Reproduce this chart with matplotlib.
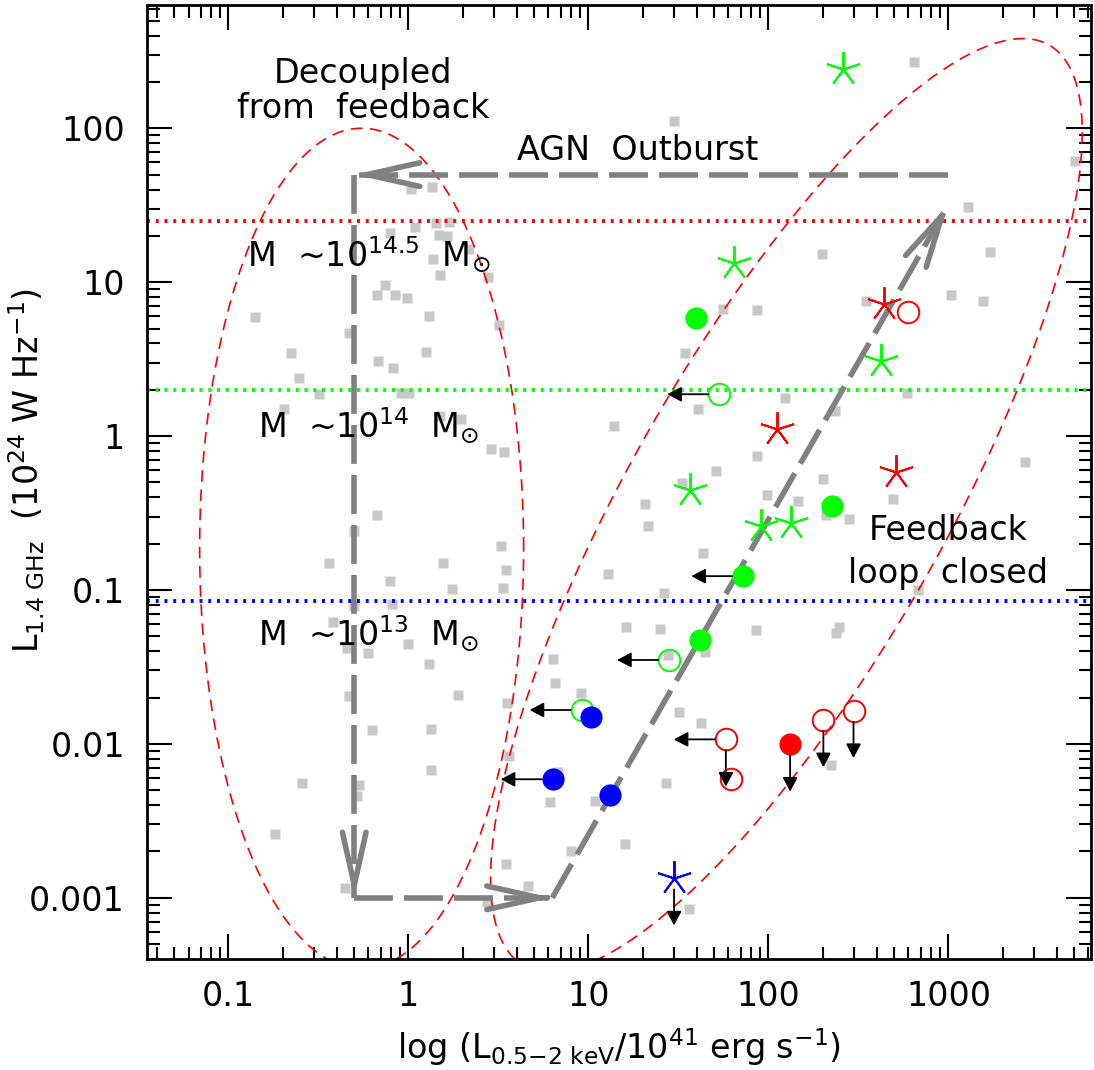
import numpy as np
import matplotlib
matplotlib.use('Agg')
import matplotlib.pyplot as plt
from matplotlib.ticker import LogLocator, NullFormatter

plt.rcParams['font.family'] = 'DejaVu Sans'
plt.rcParams['mathtext.fontset'] = 'dejavusans'

# comparison sample (grey squares)
gx = [1.04, 1.35, 1.09, 1.42, 1.69, 0.79, 1.47, 1.63, 2.17, 1.37, 1.49, 2.76, 0.74, 0.67, 0.84, 0.98, 0.14, 1.30,
      645, 29.9, 5060, 1282, 198, 1706, 1035, 1553, 349, 56.2, 86.9,
      3.2, 0.47, 0.223, 1.25, 0.676, 0.82, 0.247, 0.32, 0.91, 1.01, 0.204, 1.50, 1.96, 13.9, 2.87, 3.41,
      0.667, 0.50, 3.26, 0.36, 1.55, 3.49, 12.8, 0.79, 1.74, 3.34, 0.815, 0.50, 0.38, 16.2,
      34.4, 124, 587, 40.6, 235, 86.3, 51.1, 2670, 33.0, 200, 20.7, 98, 146, 491, 21.4, 209, 280, 43.3,
      26.4, 681, 25.0, 85.1, 247, 237,
      0.458, 0.594, 0.99, 1.30, 6.34, 6.53, 0.469, 1.88, 9.07, 3.52, 0.627, 1.34, 3.64, 1.34, 0.256, 0.532,
      0.517, 6.79, 6.12, 10.9, 0.182, 16.0, 8.02, 3.49, 4.64, 0.445, 2.73,
      27.8, 44.5, 31.9, 42.3, 27.0, 222, 36.2]
gy = [40.2, 41.4, 22.9, 24.1, 24.7, 20.8, 20.3, 20.0, 16.4, 14.1, 11.1, 10.8, 9.6, 8.3, 8.2, 7.9, 5.9, 6.0,
      271, 112, 61.3, 31.0, 15.2, 15.8, 8.3, 7.5, 7.5, 6.7, 6.6,
      5.27, 4.7, 3.48, 3.53, 3.09, 2.78, 2.39, 1.88, 1.90, 1.91, 1.49, 1.35, 1.29, 1.16, 0.824, 0.792,
      0.307, 0.243, 0.194, 0.150, 0.150, 0.135, 0.127, 0.114, 0.1016, 0.1036, 0.0807, 0.0787, 0.0619, 0.0578,
      3.48, 1.78, 1.90, 1.49, 1.46, 0.746, 0.596, 0.682, 0.498, 0.526, 0.362, 0.416, 0.380, 0.390, 0.262,
      0.307, 0.289, 0.175, 0.0953, 0.100, 0.0558, 0.0550, 0.0578, 0.0528,
      0.0418, 0.0388, 0.0444, 0.0329, 0.0356, 0.0250, 0.0205, 0.0208, 0.0215, 0.0185, 0.0124, 0.0125,
      0.00838, 0.00676, 0.00554, 0.00541, 0.00461, 0.00659, 0.00421, 0.00428, 0.0026, 0.00224, 0.00200,
      0.00166, 0.00120, 0.00116, 0.00094,
      0.0378, 0.0397, 0.0162, 0.0137, 0.00554, 0.00733, 0.00084]

# groups: x, y, x upper limit, y upper limit
gfill_x = [39.5, 225, 72.6, 41.8]
gfill_y = [5.83, 0.353, 0.123, 0.0473]
gfill_xul = [0, 0, 1, 0]

gopen_x = [53.4, 28.1, 9.18]
gopen_y = [1.87, 0.0351, 0.0166]
gopen_xul = [1, 1, 1]

gstar_x = [259, 64.4, 421, 36.7, 90.8, 133]
gstar_y = [242, 13.3, 3.08, 0.447, 0.261, 0.274]

rstar_x = [441, 111, 512]
rstar_y = [7.22, 1.11, 0.582]

ropen_x = [600, 58.0, 62.1, 202, 297]
ropen_y = [6.4, 0.0107, 0.00592, 0.0143, 0.0164]
ropen_xul = [0, 1, 0, 0, 0]
ropen_yul = [0, 1, 0, 1, 1]

rfill_x = [132]
rfill_y = [0.00993]
rfill_yul = [1]

bfill_x = [10.4, 6.34, 13.1]
bfill_y = [0.0149, 0.00589, 0.00466]
bfill_xul = [0, 1, 0]

bstar_x = [29.9]
bstar_y = [0.00134]
bstar_yul = [1]

# mass thresholds
mass_y = [25, 2.0, 0.085]
mass_col = ['red', '#00ff00', 'blue']

# feedback cycle (AGN outburst -> decoupled -> closed loop)
cycle_x = [1000, 0.5, 0.5, 6.3, 1000]
cycle_y = [50, 50, 0.001, 0.001, 32]

# ellipses in log space: cx, cy, a, b, angle
ell_left = (-0.26, -0.73, 0.90, 2.73, 0.0)
ell_mid = (2.10, -0.45, 3.33, 0.90, 64.6)

fig = plt.figure(figsize=(10.94, 10.70), dpi=100)
ax = fig.add_axes([0.1344, 0.1037, 0.8629, 0.8916])
ax.set_xscale('log')
ax.set_yscale('log')
ax.set_xlim(0.0353, 6200)
ax.set_ylim(4.0e-4, 632)

ax.plot(gx, gy, 's', ms=6.5, color='#c8c8c8', mec='none', zorder=1)

for yv, c in zip(mass_y, mass_col):
    ax.axhline(yv, color=c, lw=2.8, ls=(0, (0.75, 1.5)), zorder=2)


def log_ellipse(cx, cy, a, b, ang, n=500):
    t = np.linspace(0, 2 * np.pi, n)
    th = np.radians(ang)
    u = a * np.cos(t)
    v = b * np.sin(t)
    return 10 ** (cx + u * np.cos(th) - v * np.sin(th)), 10 ** (cy + u * np.sin(th) + v * np.cos(th))


for e in (ell_left, ell_mid):
    ex, ey = log_ellipse(*e)
    ax.plot(ex, ey, color='red', lw=1.2, ls=(0, (7, 4.5)), zorder=2)

for i in range(len(cycle_x) - 1):
    x0, y0, x1, y1 = cycle_x[i], cycle_y[i], cycle_x[i + 1], cycle_y[i + 1]
    ax.plot([x0, x1], [y0, y1], color='gray', lw=4, ls=(0, (7, 2)), zorder=3)
    bx = 10 ** (np.log10(x1) + 0.03 * (np.log10(x0) - np.log10(x1)))
    by = 10 ** (np.log10(y1) + 0.03 * (np.log10(y0) - np.log10(y1)))
    ax.annotate('', xy=(x1, y1), xytext=(bx, by),
                arrowprops=dict(arrowstyle='->,head_length=3.8,head_width=0.85', mutation_scale=10,
                                color='gray', lw=4, shrinkA=0, shrinkB=0), zorder=3)


def limit_arrows(xs, ys, xul, yul):
    for x, y, lx, ly in zip(xs, ys, xul, yul):
        for flag, off in ((lx, (-37.5, 0)), (ly, (0, -34))):
            if flag:
                ax.annotate('', xy=(x, y), xytext=off, textcoords='offset points',
                            arrowprops=dict(arrowstyle='<|-,head_length=0.85,head_width=0.45',
                                            mutation_scale=10, color='black', lw=1.3,
                                            shrinkA=0, shrinkB=8), zorder=5)


star = (5, 2, 0)
ax.plot(gfill_x, gfill_y, 'o', ms=16, color='#00ff00', mew=0, zorder=4)
ax.plot(gopen_x, gopen_y, 'o', ms=15.5, mfc='none', mec='#00ff00', mew=1.4, zorder=4)
ax.plot(gstar_x, gstar_y, ls='none', marker=star, ms=25, mec='#00ff00', mew=1.4, zorder=4)
ax.plot(rstar_x, rstar_y, ls='none', marker=star, ms=25, mec='red', mew=1.4, zorder=4)
ax.plot(ropen_x, ropen_y, 'o', ms=15.5, mfc='none', mec='red', mew=1.4, zorder=4)
ax.plot(rfill_x, rfill_y, 'o', ms=16, color='red', mew=0, zorder=4)
ax.plot(bfill_x, bfill_y, 'o', ms=16, color='blue', mew=0, zorder=4)
ax.plot(bstar_x, bstar_y, ls='none', marker=star, ms=25, mec='blue', mew=1.4, zorder=4)

limit_arrows(gfill_x, gfill_y, gfill_xul, [0] * len(gfill_x))
limit_arrows(gopen_x, gopen_y, gopen_xul, [0] * len(gopen_x))
limit_arrows(ropen_x, ropen_y, ropen_xul, ropen_yul)
limit_arrows(rfill_x, rfill_y, [0], rfill_yul)
limit_arrows(bfill_x, bfill_y, bfill_xul, [0] * len(bfill_x))
limit_arrows(bstar_x, bstar_y, [0], bstar_yul)

fs = 24
ax.text(0.56, 197, 'Decoupled', fontsize=fs, ha='center', va='baseline')
ax.text(0.56, 117, 'from  feedback', fontsize=fs, ha='center', va='baseline')
ax.text(4.02, 62, 'AGN  Outburst', fontsize=fs, ha='left', va='baseline')
ax.text(0.127, 12.6, r'M  ~10$^{14.5}$  M$_{\odot}$', fontsize=fs, ha='left', va='baseline')
ax.text(0.146, 0.986, r'M  ~10$^{14}$  M$_{\odot}$', fontsize=fs, ha='left', va='baseline')
ax.text(0.146, 0.044, r'M  ~10$^{13}$  M$_{\odot}$', fontsize=fs, ha='left', va='baseline')
ax.text(1000, 0.211, 'Feedback', fontsize=fs, ha='center', va='baseline')
ax.text(1000, 0.111, 'loop  closed', fontsize=fs, ha='center', va='baseline')

ax.set_xticks([0.1, 1, 10, 100, 1000], labels=['0.1', '1', '10', '100', '1000'])
ax.set_yticks([0.001, 0.01, 0.1, 1, 10, 100], labels=['0.001', '0.01', '0.1', '1', '10', '100'])
ax.xaxis.set_minor_locator(LogLocator(base=10, subs=np.arange(2, 10), numticks=20))
ax.yaxis.set_minor_locator(LogLocator(base=10, subs=np.arange(2, 10), numticks=20))
ax.xaxis.set_minor_formatter(NullFormatter())
ax.yaxis.set_minor_formatter(NullFormatter())
ax.tick_params(which='both', direction='in', top=True, right=True, width=1.5, labelsize=fs)
ax.tick_params(which='major', length=18)
ax.tick_params(which='minor', length=9)
ax.tick_params(axis='x', pad=15)
ax.tick_params(axis='y', pad=16)
for s in ax.spines.values():
    s.set_linewidth(2)

ax.set_xlabel(r'log (L$_{\mathrm{0.5{-}2\ keV}}$/10$^{41}$ erg s$^{-1}$)', fontsize=fs)
ax.set_ylabel(r'L$_{\mathrm{1.4\ GHz}}$  (10$^{24}$ W Hz$^{-1}$)', fontsize=fs)
ax.xaxis.set_label_coords(0.5, -0.07)
ax.yaxis.set_label_coords(-0.106, 0.512)

fig.savefig('out.png', dpi=100)
